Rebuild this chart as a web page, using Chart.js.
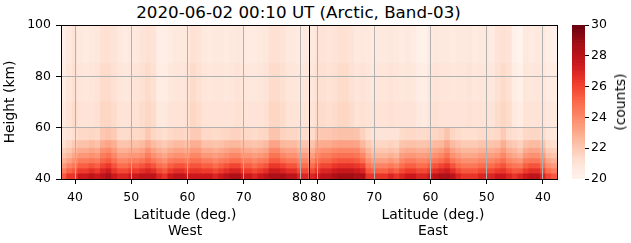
<!DOCTYPE html>
<html>
<head>
<meta charset="utf-8">
<script src="https://cdn.jsdelivr.net/npm/chart.js@4.4.1/dist/chart.umd.min.js"></script>
<style>
  body { margin: 0; background: #fff; }
  #wrap { position: relative; width: 631px; height: 243px; overflow: hidden; font-family: "DejaVu Sans", sans-serif; color: #000; }
  #wrap canvas { position: absolute; top: 0; }
  #title { position: absolute; top: 2px; left: 0; width: 597px; text-align: center; font-size: 16.7px; line-height: 20px; white-space: nowrap; }
  #cblabel { position: absolute; left: 620px; top: 102px; font-size: 13.9px; line-height: 16px; white-space: nowrap; transform: translate(-50%, -50%) rotate(-90deg); }
</style>
</head>
<body>
<div id="wrap">
  <div id="title">2020-06-02 00:10 UT (Arctic, Band-03)</div>
  <canvas id="west" width="330" height="243" style="left:0px"></canvas>
  <canvas id="east" width="300" height="243" style="left:280px"></canvas>
  <canvas id="cbar" width="71" height="243" style="left:560px"></canvas>
  <div id="cblabel">(counts)</div>
</div>
<script>
// latitude of each column, height band edges (km), colour range
const westLat = [38, 39, 40, 41, 42, 43, 44, 45, 46, 47, 48, 49, 50, 51, 52, 53, 54, 55, 56, 57, 58, 59,
  60, 61, 62, 63, 64, 65, 66, 67, 68, 69, 70, 71, 72, 73, 74, 75, 76, 77, 78, 79, 80, 81];
const eastLat = [81, 80, 79, 78, 77, 76, 75, 74, 73, 72, 71, 70, 69, 68, 67, 66, 65, 64, 63, 62, 61, 60,
  59, 58, 57, 56, 55, 54, 53, 52, 51, 50, 49, 48, 47, 46, 45, 44, 43, 42, 41, 40, 39, 38];
const heightEdges = [40, 42, 44, 46, 48, 50, 52, 55, 60, 70, 85, 100];
const latTicks = [40, 50, 60, 70, 80];
const heightTicks = [40, 60, 80, 100];
const countMin = 20;
const countMax = 30;

// counts, West side, one array per height band (named by lower edge)
const w40 = [25.5,26.5,26.5,27.5,27.5,28,27.5,28,28.5,27.5,27,27,27.5,27.5,28,28,28,27,26.5,27.5,28,28,27.5,27.5,27.5,27.5,27.5,27,27.5,28,28.5,28.5,27.5,27.5,27,27.5,28,28.5,28.5,28.5,28,28,27,27];
const w42 = [24.4,25.2,25.5,26.3,26.3,26.7,26.3,27.0,27.4,26.5,25.9,25.9,26.3,26.3,26.7,27.0,26.7,25.9,25.5,26.3,26.7,26.7,26.3,26.5,26.5,26.3,26.3,25.9,26.3,26.7,27.1,27.1,26.3,26.3,25.9,26.3,26.7,27.4,27.4,27.1,26.7,26.7,25.9,25.9];
const w44 = [23.5,24.2,24.6,25.3,25.3,25.6,25.3,26.0,26.4,25.6,24.9,24.9,25.3,25.3,25.6,26.0,25.6,24.9,24.6,25.3,25.6,25.6,25.3,25.6,25.6,25.3,25.3,24.9,25.3,25.6,26.0,26.0,25.3,25.3,24.9,25.3,25.6,26.4,26.4,26.0,25.6,25.6,24.9,24.9];
const w46 = [22.8,23.3,23.8,24.4,24.4,24.6,24.4,25.1,25.4,24.8,24.1,24.1,24.4,24.4,24.6,25.1,24.6,24.1,23.8,24.4,24.6,24.6,24.4,24.8,24.8,24.4,24.4,24.1,24.4,24.6,24.9,24.9,24.4,24.4,24.1,24.4,24.6,25.4,25.4,24.9,24.6,24.6,24.1,24.1];
const w48 = [22.2,22.6,23.1,23.6,23.6,23.8,23.6,24.4,24.7,24.1,23.4,23.4,23.6,23.6,23.8,24.4,23.8,23.4,23.1,23.6,23.8,23.8,23.6,24.1,24.1,23.6,23.6,23.4,23.6,23.8,24.1,24.1,23.6,23.6,23.4,23.6,23.8,24.7,24.7,24.1,23.8,23.8,23.4,23.4];
const w50 = [21.8,22.1,22.6,23.0,23.0,23.2,23.0,23.8,24.0,23.5,22.8,22.8,23.0,23.0,23.2,23.8,23.2,22.8,22.6,23.0,23.2,23.2,23.0,23.5,23.5,23.0,23.0,22.8,23.0,23.2,23.4,23.4,23.0,23.0,22.8,23.0,23.2,24.0,24.0,23.4,23.2,23.2,22.8,22.8];
const w52 = [21.3,21.6,22.0,22.3,22.3,22.5,22.3,23.0,23.2,22.9,22.2,22.2,22.3,22.3,22.5,23.0,22.5,22.2,22.0,22.3,22.5,22.5,22.3,22.9,22.9,22.3,22.3,22.2,22.3,22.5,22.6,22.6,22.3,22.3,22.2,22.3,22.5,23.2,23.2,22.6,22.5,22.5,22.2,22.2];
const w55 = [20.8,21.0,21.3,21.5,21.5,21.6,21.5,22.1,22.2,22.0,21.4,21.4,21.5,21.5,21.6,22.1,21.6,21.4,21.3,21.5,21.6,21.6,21.5,22.0,22.0,21.5,21.5,21.4,21.5,21.6,21.7,21.7,21.5,21.5,21.4,21.5,21.6,22.2,22.2,21.7,21.6,21.6,21.4,21.4];
const w60 = [20.7,21.1,21.4,21.1,21.0,21.1,21.2,21.6,21.6,21.4,21.1,21.0,21.1,21.2,21.4,21.6,21.4,20.7,20.7,21.0,21.1,21.1,21.2,21.6,21.4,21.1,21.0,21.1,21.1,21.0,21.1,21.2,21.1,21.0,21.0,21.1,21.2,21.6,21.6,21.4,21.1,21.1,21.0,21.1];
const w70 = [20.5,20.9,21.2,20.9,20.8,20.9,21.0,21.4,21.4,21.2,20.9,20.8,20.9,21.0,21.2,21.4,21.2,20.5,20.5,20.8,20.9,20.9,21.0,21.4,21.2,20.9,20.8,20.9,20.9,20.8,20.9,21.0,20.9,20.8,20.8,20.9,21.0,21.4,21.4,21.2,20.9,20.9,20.8,20.9];
const w85 = [20.4,20.7,21.0,20.7,20.6,20.7,20.8,21.2,21.2,21.0,20.7,20.6,20.7,20.8,21.0,21.2,21.0,20.4,20.4,20.6,20.7,20.7,20.8,21.2,21.0,20.7,20.6,20.7,20.7,20.6,20.7,20.8,20.7,20.6,20.6,20.7,20.8,21.2,21.2,21.0,20.7,20.7,20.6,20.7];

// counts, East side
const e40 = [27,27.5,28,28,28.5,28.8,28.8,28.8,28.5,28.5,26.5,26.5,26.5,26.5,27,26.5,27,27.5,27.5,27,27,27.5,28,28.5,28.5,28,27,26.5,26.5,26.5,27,27,27,27.5,27.5,27,26.5,27,27.5,28,28,27,26,25.5];
const e42 = [25.9,26.5,27.0,27.0,27.4,27.7,27.7,27.7,27.4,27.1,25.5,25.2,25.2,25.2,25.6,25.2,25.9,26.3,26.3,25.9,25.9,26.3,26.7,27.1,27.4,26.7,25.9,25.5,25.5,25.5,25.9,25.9,25.9,26.3,26.5,25.9,25.5,25.6,26.3,26.7,26.7,25.9,24.8,24.4];
const e44 = [24.9,25.6,26.0,26.0,26.4,26.6,26.6,26.6,26.4,26.0,24.6,24.2,24.2,24.2,24.5,24.2,24.9,25.3,25.3,24.9,24.9,25.3,25.6,26.0,26.4,25.6,24.9,24.6,24.6,24.6,24.9,24.9,24.9,25.3,25.6,24.9,24.6,24.5,25.3,25.6,25.6,24.9,23.8,23.5];
const e46 = [24.1,24.8,25.1,25.1,25.4,25.6,25.6,25.6,25.4,24.9,23.8,23.3,23.3,23.3,23.6,23.3,24.1,24.4,24.4,24.1,24.1,24.4,24.6,24.9,25.4,24.6,24.1,23.8,23.8,23.8,24.1,24.1,24.1,24.4,24.8,24.1,23.8,23.6,24.4,24.6,24.6,24.1,23.1,22.8];
const e48 = [23.4,24.1,24.4,24.4,24.7,24.8,24.8,24.8,24.7,24.1,23.1,22.6,22.6,22.6,22.8,22.6,23.4,23.6,23.6,23.4,23.4,23.6,23.8,24.1,24.7,23.8,23.4,23.1,23.1,23.1,23.4,23.4,23.4,23.6,24.1,23.4,23.1,22.8,23.6,23.8,23.8,23.4,22.4,22.2];
const e50 = [22.8,23.5,23.8,23.8,24.0,24.1,24.1,24.1,24.0,23.4,22.6,22.1,22.1,22.1,22.2,22.1,22.8,23.0,23.0,22.8,22.8,23.0,23.2,23.4,24.0,23.2,22.8,22.6,22.6,22.6,22.8,22.8,22.8,23.0,23.5,22.8,22.6,22.2,23.0,23.2,23.2,22.8,21.9,21.8];
const e52 = [22.2,22.9,23.0,23.0,23.2,23.3,23.3,23.3,23.2,22.6,22.0,21.6,21.6,21.6,21.7,21.6,22.2,22.3,22.3,22.2,22.2,22.3,22.5,22.6,23.2,22.5,22.2,22.0,22.0,22.0,22.2,22.2,22.2,22.3,22.9,22.2,22.0,21.7,22.3,22.5,22.5,22.2,21.4,21.3];
const e55 = [21.4,22.0,22.1,22.1,22.2,22.3,22.3,22.3,22.2,21.7,21.3,21.0,21.0,21.0,21.1,21.0,21.4,21.5,21.5,21.4,21.4,21.5,21.6,21.7,22.2,21.6,21.4,21.3,21.3,21.3,21.4,21.4,21.4,21.5,22.0,21.4,21.3,21.1,21.5,21.6,21.6,21.4,20.9,20.8];
const e60 = [21.1,21.4,21.4,21.3,21.4,21.6,21.6,21.4,21.1,21.2,21.1,21.0,21.1,21.1,21.2,21.1,21.0,21.1,21.0,20.7,20.6,21.1,21.2,21.1,21.1,21.0,21.1,21.1,21.2,21.0,21.1,21.1,21.0,21.4,21.6,21.4,20.7,20.5,21.1,21.0,21.1,21.1,20.8,20.7];
const e70 = [20.9,21.2,21.2,21.1,21.2,21.4,21.4,21.2,20.9,21.0,20.9,20.8,20.9,20.9,21.0,20.9,20.8,20.9,20.8,20.5,20.4,20.9,21.0,20.9,20.9,20.8,20.9,20.9,21.0,20.8,20.9,20.9,20.8,21.2,21.4,21.2,20.5,20.3,20.9,20.8,20.9,20.9,20.6,20.5];
const e85 = [20.7,21.0,21.0,20.9,21.0,21.2,21.2,21.0,20.7,20.8,20.7,20.6,20.7,20.7,20.8,20.7,20.6,20.7,20.6,20.3,20.2,20.7,20.8,20.7,20.7,20.6,20.7,20.7,20.8,20.6,20.7,20.7,20.6,21.0,21.2,21.0,20.3,20.1,20.7,20.6,20.7,20.7,20.4,20.3];

const westBands = [w40, w42, w44, w46, w48, w50, w52, w55, w60, w70, w85];
const eastBands = [e40, e42, e44, e46, e48, e50, e52, e55, e60, e70, e85];

// matplotlib "Reds"
const redsStops = ["#fff5f0", "#fee0d2", "#fcbba1", "#fc9272", "#fb6a4a", "#ef3b2c", "#cb181d", "#a50f15", "#67000d"];
function hexRgb(h) {
  return [1, 3, 5].map((i) => parseInt(h.slice(i, i + 2), 16));
}
function redColor(v) {
  let t = (v - countMin) / (countMax - countMin);
  t = Math.min(1, Math.max(0, t)) * (redsStops.length - 1);
  const i = Math.min(redsStops.length - 2, Math.floor(t));
  const f = t - i;
  const a = hexRgb(redsStops[i]);
  const b = hexRgb(redsStops[i + 1]);
  const c = a.map((x, k) => Math.round(x + (b[k] - x) * f));
  return `rgb(${c[0]},${c[1]},${c[2]})`;
}

Chart.defaults.font.family = "'DejaVu Sans', sans-serif";
Chart.defaults.color = "#000";

const gridGray = "#b0b0b0";
const tickFont = { size: 12.5 };
const labelFont = { size: 13.9 };

function frameAxis(position, sizeKey) {
  return {
    type: "linear",
    position: position,
    ticks: { display: false },
    grid: { display: false, z: 1 },
    border: { display: true, color: "#000", width: 1, z: 2 },
    afterFit: (s) => { s[sizeKey] = 0; },
  };
}

function drawHeat(id, lats, bands, side, showY, pad) {
  const datasets = bands.map((vals, r) => ({
    xAxisID: "x",
    yAxisID: "y",
    data: lats.map((lat) => ({ x: lat, y: [heightEdges[r], heightEdges[r + 1]] })),
    backgroundColor: vals.map(redColor),
    borderWidth: 0,
    grouped: false,
    barPercentage: 1,
    categoryPercentage: 1,
  }));

  new Chart(document.getElementById(id), {
    type: "bar",
    data: { datasets: datasets },
    options: {
      responsive: false,
      animation: false,
      events: [],
      layout: { padding: pad },
      plugins: { legend: { display: false }, tooltip: { enabled: false } },
      scales: {
        y: {
          type: "linear",
          min: 40,
          max: 100,
          afterBuildTicks: (s) => { s.ticks = heightTicks.map((v) => ({ value: v })); },
          afterFit: (s) => { s.width = showY ? 61 : 0; },
          ticks: { display: showY, font: tickFont, padding: 5 },
          grid: { color: gridGray, lineWidth: 1, z: 1, tickColor: "#000", tickLength: 5, drawTicks: showY },
          border: { color: "#000", width: 1, z: 2 },
          title: { display: showY, text: "Height (km)", font: labelFont, padding: { top: 2, bottom: 0 } },
        },
        x: {
          type: "linear",
          min: 37.5,
          max: 81.6,
          reverse: side === "East",
          offset: false,
          afterBuildTicks: (s) => { s.ticks = latTicks.map((v) => ({ value: v })); },
          afterFit: (s) => { s.height = 64; },
          ticks: { font: tickFont, padding: 6, maxRotation: 0, autoSkip: false },
          grid: { color: gridGray, lineWidth: 1, z: 1, tickColor: "#000", tickLength: 5, offset: false },
          border: { color: "#000", width: 1, z: 2 },
          title: { display: true, text: ["Latitude (deg.)", side], font: labelFont, padding: { top: 0, bottom: 3 } },
        },
        xTop: frameAxis("top", "height"),
        yRight: frameAxis("right", "width"),
      },
    },
  });
}

drawHeat("west", westLat, westBands, "West", true, { left: 0, top: 25, right: 21, bottom: 0 });
drawHeat("east", eastLat, eastBands, "East", false, { left: 29, top: 25, right: 23, bottom: 0 });

// colour bar
const cbStep = (countMax - countMin) / 100;
const cbLevels = [];
for (let i = 0; i < 100; i++) cbLevels.push(countMin + i * cbStep);

new Chart(document.getElementById("cbar"), {
  type: "bar",
  data: {
    labels: ["c"],
    datasets: [
      {
        data: cbLevels.map((v) => ({ x: "c", y: [v, v + cbStep] })),
        backgroundColor: cbLevels.map((v) => redColor(v + cbStep / 2)),
        borderWidth: 0,
        grouped: false,
        barPercentage: 1,
        categoryPercentage: 1,
      },
      {
        data: [{ x: "c", y: [countMin, countMax] }],
        backgroundColor: "rgba(0,0,0,0)",
        borderColor: "#000",
        borderWidth: 1,
        borderSkipped: false,
        grouped: false,
        barPercentage: 1,
        categoryPercentage: 1,
      },
    ],
  },
  options: {
    responsive: false,
    animation: false,
    events: [],
    layout: { padding: { left: 12, top: 25, right: 0, bottom: 64 } },
    plugins: { legend: { display: false }, tooltip: { enabled: false } },
    scales: {
      x: { type: "category", display: false },
      y: {
        position: "right",
        min: countMin,
        max: countMax,
        ticks: { stepSize: 2, font: tickFont, padding: 2 },
        grid: { drawOnChartArea: false, tickColor: "#000", tickLength: 4, tickWidth: 1 },
        border: { display: false },
        afterFit: (s) => { s.width = 46; },
      },
    },
  },
});
</script>
</body>
</html>
